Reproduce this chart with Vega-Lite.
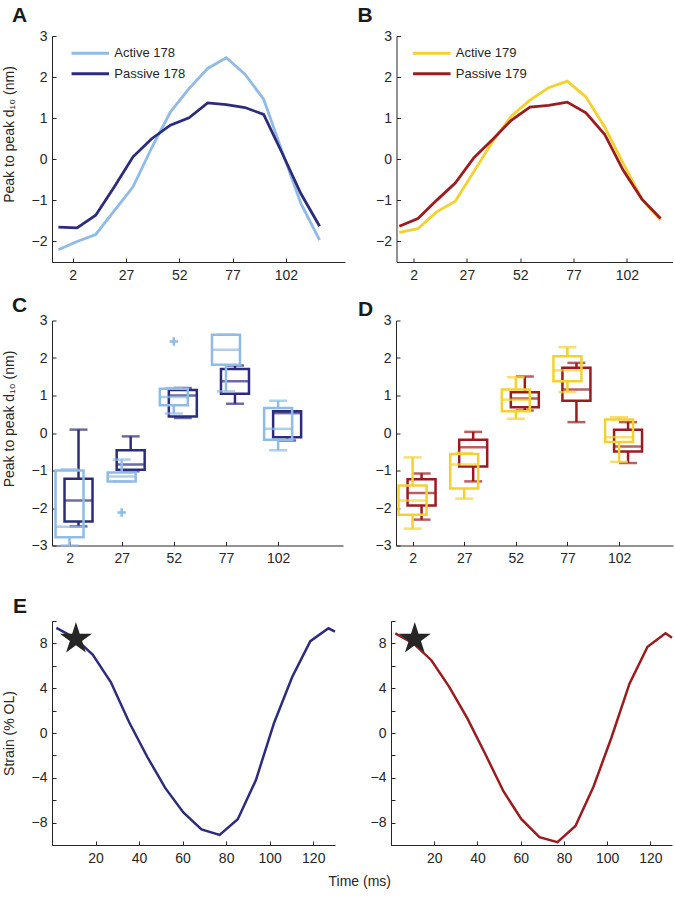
{
  "$schema": "https://vega.github.io/schema/vega-lite/v6.json",
  "padding": {"left": 2, "top": 5, "right": 2, "bottom": 2},
  "background": "white",
  "spacing": 30,
  "resolve": {"scale": {"x": "independent", "y": "independent", "color": "independent"}, "legend": {"color": "independent"}},
  "datasets": {
    "lineA": [
      {"x": -4.7, "value": -2.2, "series": "Active 178"},
      {"x": 4.05, "value": -2.0, "series": "Active 178"},
      {"x": 12.8, "value": -1.83, "series": "Active 178"},
      {"x": 21.55, "value": -1.25, "series": "Active 178"},
      {"x": 30.3, "value": -0.67, "series": "Active 178"},
      {"x": 39.05, "value": 0.28, "series": "Active 178"},
      {"x": 47.8, "value": 1.15, "series": "Active 178"},
      {"x": 56.55, "value": 1.72, "series": "Active 178"},
      {"x": 65.3, "value": 2.21, "series": "Active 178"},
      {"x": 74.05, "value": 2.47, "series": "Active 178"},
      {"x": 82.8, "value": 2.07, "series": "Active 178"},
      {"x": 91.55, "value": 1.46, "series": "Active 178"},
      {"x": 100.3, "value": 0.18, "series": "Active 178"},
      {"x": 109.05, "value": -1.08, "series": "Active 178"},
      {"x": 117.8, "value": -1.97, "series": "Active 178"},
      {"x": -4.7, "value": -1.65, "series": "Passive 178"},
      {"x": 4.05, "value": -1.67, "series": "Passive 178"},
      {"x": 12.8, "value": -1.36, "series": "Passive 178"},
      {"x": 21.55, "value": -0.67, "series": "Passive 178"},
      {"x": 30.3, "value": 0.06, "series": "Passive 178"},
      {"x": 39.05, "value": 0.5, "series": "Passive 178"},
      {"x": 47.8, "value": 0.83, "series": "Passive 178"},
      {"x": 56.55, "value": 1.01, "series": "Passive 178"},
      {"x": 65.3, "value": 1.37, "series": "Passive 178"},
      {"x": 74.05, "value": 1.33, "series": "Passive 178"},
      {"x": 82.8, "value": 1.26, "series": "Passive 178"},
      {"x": 91.55, "value": 1.09, "series": "Passive 178"},
      {"x": 100.3, "value": 0.14, "series": "Passive 178"},
      {"x": 109.05, "value": -0.84, "series": "Passive 178"},
      {"x": 117.8, "value": -1.63, "series": "Passive 178"}
    ],
    "lineB": [
      {"x": -4.7, "value": -1.78, "series": "Active 179"},
      {"x": 4.05, "value": -1.69, "series": "Active 179"},
      {"x": 12.8, "value": -1.28, "series": "Active 179"},
      {"x": 21.55, "value": -1.02, "series": "Active 179"},
      {"x": 30.3, "value": -0.3, "series": "Active 179"},
      {"x": 39.05, "value": 0.43, "series": "Active 179"},
      {"x": 47.8, "value": 1.05, "series": "Active 179"},
      {"x": 56.55, "value": 1.44, "series": "Active 179"},
      {"x": 65.3, "value": 1.74, "series": "Active 179"},
      {"x": 74.05, "value": 1.9, "series": "Active 179"},
      {"x": 82.8, "value": 1.52, "series": "Active 179"},
      {"x": 91.55, "value": 0.79, "series": "Active 179"},
      {"x": 100.3, "value": -0.1, "series": "Active 179"},
      {"x": 109.05, "value": -0.97, "series": "Active 179"},
      {"x": 117.8, "value": -1.48, "series": "Active 179"},
      {"x": -4.7, "value": -1.63, "series": "Passive 179"},
      {"x": 4.05, "value": -1.44, "series": "Passive 179"},
      {"x": 12.8, "value": -1.0, "series": "Passive 179"},
      {"x": 21.55, "value": -0.58, "series": "Passive 179"},
      {"x": 30.3, "value": 0.04, "series": "Passive 179"},
      {"x": 39.05, "value": 0.48, "series": "Passive 179"},
      {"x": 47.8, "value": 0.95, "series": "Passive 179"},
      {"x": 56.55, "value": 1.27, "series": "Passive 179"},
      {"x": 65.3, "value": 1.31, "series": "Passive 179"},
      {"x": 74.05, "value": 1.39, "series": "Passive 179"},
      {"x": 82.8, "value": 1.13, "series": "Passive 179"},
      {"x": 91.55, "value": 0.61, "series": "Passive 179"},
      {"x": 100.3, "value": -0.27, "series": "Passive 179"},
      {"x": 109.05, "value": -0.97, "series": "Passive 179"},
      {"x": 117.8, "value": -1.44, "series": "Passive 179"}
    ],
    "boxC": [
      {"t": 2, "series": "Active", "lo": -3.0, "q1": -2.78, "med": -2.5, "q3": -1.0, "hi": -0.97},
      {"t": 2, "series": "Passive", "lo": -2.49, "q1": -2.36, "med": -1.8, "q3": -1.22, "hi": 0.09},
      {"t": 27, "series": "Active", "lo": -1.29, "q1": -1.29, "med": -1.16, "q3": -1.05, "hi": -0.71},
      {"t": 27, "series": "Passive", "lo": -1.02, "q1": -0.98, "med": -0.84, "q3": -0.46, "hi": -0.09},
      {"t": 52, "series": "Active", "lo": 0.52, "q1": 0.74, "med": 0.96, "q3": 1.18, "hi": 1.2},
      {"t": 52, "series": "Passive", "lo": 0.4, "q1": 0.44, "med": 1.0, "q3": 1.15, "hi": 1.2},
      {"t": 77, "series": "Active", "lo": 1.11, "q1": 1.82, "med": 2.22, "q3": 2.62, "hi": 2.62},
      {"t": 77, "series": "Passive", "lo": 0.78, "q1": 1.05, "med": 1.38, "q3": 1.71, "hi": 1.8},
      {"t": 102, "series": "Active", "lo": -0.46, "q1": -0.18, "med": 0.11, "q3": 0.67, "hi": 0.86},
      {"t": 102, "series": "Passive", "lo": -0.2, "q1": -0.11, "med": 0.53, "q3": 0.58, "hi": 0.58}
    ],
    "outC": [
      {"t": 27, "value": -2.12},
      {"t": 52, "value": 2.44}
    ],
    "boxD": [
      {"t": 2, "series": "Active", "lo": -2.55, "q1": -2.18, "med": -1.8, "q3": -1.4, "hi": -0.65},
      {"t": 2, "series": "Passive", "lo": -2.31, "q1": -1.93, "med": -1.6, "q3": -1.23, "hi": -1.08},
      {"t": 27, "series": "Active", "lo": -1.75, "q1": -1.48, "med": -0.84, "q3": -0.56, "hi": -0.53},
      {"t": 27, "series": "Passive", "lo": -1.29, "q1": -0.89, "med": -0.38, "q3": -0.18, "hi": 0.03},
      {"t": 52, "series": "Active", "lo": 0.38, "q1": 0.58, "med": 0.89, "q3": 1.16, "hi": 1.49},
      {"t": 52, "series": "Passive", "lo": 0.6, "q1": 0.69, "med": 0.92, "q3": 1.09, "hi": 1.51},
      {"t": 77, "series": "Active", "lo": 1.09, "q1": 1.38, "med": 1.67, "q3": 2.05, "hi": 2.29},
      {"t": 77, "series": "Passive", "lo": 0.29, "q1": 0.86, "med": 1.16, "q3": 1.74, "hi": 1.87},
      {"t": 102, "series": "Active", "lo": -0.77, "q1": -0.24, "med": -0.11, "q3": 0.36, "hi": 0.42},
      {"t": 102, "series": "Passive", "lo": -0.8, "q1": -0.49, "med": -0.36, "q3": 0.09, "hi": 0.29}
    ],
    "lineE1": [
      {"t": 2, "v": 9.38}, {"t": 10.33, "v": 8.5}, {"t": 18.67, "v": 7.0}, {"t": 27, "v": 4.55},
      {"t": 35.33, "v": 1.0}, {"t": 43.67, "v": -2.1}, {"t": 52, "v": -4.9}, {"t": 60.33, "v": -7.1},
      {"t": 68.67, "v": -8.6}, {"t": 77, "v": -9.1}, {"t": 85.33, "v": -7.7}, {"t": 93.67, "v": -4.2},
      {"t": 102, "v": 0.9}, {"t": 110.33, "v": 5.0}, {"t": 118.67, "v": 8.2}, {"t": 127, "v": 9.35},
      {"t": 130, "v": 9.05}
    ],
    "lineE2": [
      {"t": 2, "v": 8.9}, {"t": 10.33, "v": 8.0}, {"t": 18.67, "v": 6.5}, {"t": 27, "v": 4.1},
      {"t": 35.33, "v": 1.3}, {"t": 43.67, "v": -1.9}, {"t": 52, "v": -5.2}, {"t": 60.33, "v": -7.7},
      {"t": 68.67, "v": -9.3}, {"t": 77, "v": -9.75}, {"t": 85.33, "v": -8.3}, {"t": 93.67, "v": -4.8},
      {"t": 102, "v": -0.4}, {"t": 110.33, "v": 4.4}, {"t": 118.67, "v": 7.7}, {"t": 127, "v": 8.9},
      {"t": 130, "v": 8.5}
    ],
    "star": [{"t": 11, "v": 8.4}]
  },
  "vconcat": [
    {
      "spacing": 12.5,
      "resolve": {"scale": {"x": "independent", "y": "independent", "color": "independent"}, "legend": {"color": "independent"}},
      "vconcat": [
        {
          "spacing": 12.5,
          "resolve": {"scale": {"x": "independent", "y": "independent", "color": "independent"}, "legend": {"color": "independent"}},
          "hconcat": [
            {
              "width": 293, "height": 226,
              "title": {"text": "A", "dx": -40, "dy": 1},
              "data": {"name": "lineA"},
              "mark": {"type": "line", "strokeWidth": 2.8},
              "encoding": {
                "x": {"field": "x", "type": "quantitative", "scale": {"domain": [-7.7, 129.7], "nice": false, "zero": false}, "axis": {"values": [2, 27, 52, 77, 102], "tickCount": 30, "format": "d", "title": null, "labelOverlap": false}},
                "y": {"field": "value", "type": "quantitative", "scale": {"domain": [-2.5, 3], "nice": false, "zero": false}, "axis": {"values": [-2, -1, 0, 1, 2, 3], "tickCount": 30, "format": "d", "title": "Peak to peak d₁₀ (nm)", "titleY": 98, "labelOverlap": false}},
                "color": {"field": "series", "type": "nominal", "scale": {"domain": ["Active 178", "Passive 178"], "range": ["#8fbbe6", "#2d2c7c"]},
                  "legend": {"orient": "none", "legendX": 29.3, "legendY": 8.2, "title": null, "symbolType": "M-2.5,0H2.5", "symbolSize": 225, "symbolStrokeWidth": 3, "labelFontSize": 13, "labelOffset": 15, "rowPadding": 4.5, "padding": 0}}
              }
            },
            {
              "width": 276, "height": 226,
              "title": {"text": "B", "dx": -39, "dy": 1},
              "data": {"name": "lineB"},
              "mark": {"type": "line", "strokeWidth": 2.8},
              "encoding": {
                "x": {"field": "x", "type": "quantitative", "scale": {"domain": [-6, 123.4], "nice": false, "zero": false}, "axis": {"values": [2, 27, 52, 77, 102], "tickCount": 30, "format": "d", "title": null, "labelOverlap": false}},
                "y": {"field": "value", "type": "quantitative", "scale": {"domain": [-2.5, 3], "nice": false, "zero": false}, "axis": {"values": [-2, -1, 0, 1, 2, 3], "tickCount": 30, "format": "d", "title": null, "labelOverlap": false}},
                "color": {"field": "series", "type": "nominal", "scale": {"domain": ["Active 179", "Passive 179"], "range": ["#f5d130", "#9b1c1f"]},
                  "legend": {"orient": "none", "legendX": 26.3, "legendY": 8.2, "title": null, "symbolType": "M-2.5,0H2.5", "symbolSize": 225, "symbolStrokeWidth": 3, "labelFontSize": 13, "labelOffset": 15, "rowPadding": 4.5, "padding": 0}}
              }
            }
          ]
        },
        {
          "spacing": 15,
          "resolve": {"scale": {"x": "independent", "y": "independent", "color": "independent"}},
          "hconcat": [
            {
              "width": 291, "height": 225,
              "title": {"text": "C", "dx": -40, "dy": 6},
              "data": {"name": "boxC"},
              "encoding": {
                "x": {"field": "t", "type": "quantitative", "scale": {"domain": [-4, 130.7], "nice": false, "zero": false}, "axis": {"values": [2, 27, 52, 77, 102], "tickCount": 30, "format": "d", "title": null, "labelOverlap": false}}
              },
              "layer": [
                {"transform": [{"filter": "datum.series === 'Passive'"}], "mark": {"type": "rule", "color": "#2d2c7c", "strokeWidth": 2.5, "xOffset": 9},
                 "encoding": {"y": {"field": "lo", "type": "quantitative", "scale": {"domain": [-3, 3], "nice": false, "zero": false}, "title": "Peak to peak d₁₀ (nm)", "axis": {"values": [-3, -2, -1, 0, 1, 2, 3], "tickCount": 30, "format": "d", "titleY": 98, "labelOverlap": false}}, "y2": {"field": "q1"}}},
                {"transform": [{"filter": "datum.series === 'Passive'"}], "mark": {"type": "rule", "color": "#2d2c7c", "strokeWidth": 2.5, "xOffset": 9},
                 "encoding": {"y": {"field": "q3", "type": "quantitative", "scale": {"domain": [-3, 3], "nice": false, "zero": false}, "title": "Peak to peak d₁₀ (nm)"}, "y2": {"field": "hi"}}},
                {"transform": [{"filter": "datum.series === 'Passive'"}], "mark": {"type": "bar", "orient": "vertical", "width": 28, "fill": "transparent", "stroke": "#2d2c7c", "strokeWidth": 2.5, "xOffset": 9},
                 "encoding": {"y": {"field": "q3", "type": "quantitative", "scale": {"domain": [-3, 3], "nice": false, "zero": false}, "title": "Peak to peak d₁₀ (nm)"}, "y2": {"field": "q1"}}},
                {"transform": [{"filter": "datum.series === 'Passive'"}], "mark": {"type": "tick", "orient": "horizontal", "size": 28, "thickness": 2.5, "color": "#2d2c7c", "xOffset": 9},
                 "encoding": {"y": {"field": "med", "type": "quantitative", "scale": {"domain": [-3, 3], "nice": false, "zero": false}, "title": "Peak to peak d₁₀ (nm)"}}},
                {"transform": [{"filter": "datum.series === 'Passive'"}], "mark": {"type": "tick", "orient": "horizontal", "size": 18, "thickness": 2.5, "color": "#2d2c7c", "xOffset": 9},
                 "encoding": {"y": {"field": "lo", "type": "quantitative", "scale": {"domain": [-3, 3], "nice": false, "zero": false}, "title": "Peak to peak d₁₀ (nm)"}}},
                {"transform": [{"filter": "datum.series === 'Passive'"}], "mark": {"type": "tick", "orient": "horizontal", "size": 18, "thickness": 2.5, "color": "#2d2c7c", "xOffset": 9},
                 "encoding": {"y": {"field": "hi", "type": "quantitative", "scale": {"domain": [-3, 3], "nice": false, "zero": false}, "title": "Peak to peak d₁₀ (nm)"}}},
                {"transform": [{"filter": "datum.series === 'Active'"}], "mark": {"type": "rule", "color": "#8fbbe6", "strokeWidth": 2.5},
                 "encoding": {"y": {"field": "lo", "type": "quantitative", "scale": {"domain": [-3, 3], "nice": false, "zero": false}, "title": "Peak to peak d₁₀ (nm)"}, "y2": {"field": "q1"}}},
                {"transform": [{"filter": "datum.series === 'Active'"}], "mark": {"type": "rule", "color": "#8fbbe6", "strokeWidth": 2.5},
                 "encoding": {"y": {"field": "q3", "type": "quantitative", "scale": {"domain": [-3, 3], "nice": false, "zero": false}, "title": "Peak to peak d₁₀ (nm)"}, "y2": {"field": "hi"}}},
                {"transform": [{"filter": "datum.series === 'Active'"}], "mark": {"type": "bar", "orient": "vertical", "width": 28, "fill": "transparent", "stroke": "#8fbbe6", "strokeWidth": 2.5},
                 "encoding": {"y": {"field": "q3", "type": "quantitative", "scale": {"domain": [-3, 3], "nice": false, "zero": false}, "title": "Peak to peak d₁₀ (nm)"}, "y2": {"field": "q1"}}},
                {"transform": [{"filter": "datum.series === 'Active'"}], "mark": {"type": "tick", "orient": "horizontal", "size": 28, "thickness": 2.5, "color": "#8fbbe6"},
                 "encoding": {"y": {"field": "med", "type": "quantitative", "scale": {"domain": [-3, 3], "nice": false, "zero": false}, "title": "Peak to peak d₁₀ (nm)"}}},
                {"transform": [{"filter": "datum.series === 'Active'"}], "mark": {"type": "tick", "orient": "horizontal", "size": 18, "thickness": 2.5, "color": "#8fbbe6"},
                 "encoding": {"y": {"field": "lo", "type": "quantitative", "scale": {"domain": [-3, 3], "nice": false, "zero": false}, "title": "Peak to peak d₁₀ (nm)"}}},
                {"transform": [{"filter": "datum.series === 'Active'"}], "mark": {"type": "tick", "orient": "horizontal", "size": 18, "thickness": 2.5, "color": "#8fbbe6"},
                 "encoding": {"y": {"field": "hi", "type": "quantitative", "scale": {"domain": [-3, 3], "nice": false, "zero": false}, "title": "Peak to peak d₁₀ (nm)"}}},
                {"data": {"name": "outC"}, "mark": {"type": "point", "shape": "M-1,0H1M0,-1V1", "filled": false, "color": "#8fbbe6", "strokeWidth": 2.5, "size": 70, "opacity": 1},
                 "encoding": {"y": {"field": "value", "type": "quantitative", "scale": {"domain": [-3, 3], "nice": false, "zero": false}, "title": "Peak to peak d₁₀ (nm)"}}}
              ]
            },
            {
              "width": 277, "height": 225,
              "title": {"text": "D", "dx": -38, "dy": 10},
              "data": {"name": "boxD"},
              "encoding": {
                "x": {"field": "t", "type": "quantitative", "scale": {"domain": [-3.6, 125.7], "nice": false, "zero": false}, "axis": {"values": [2, 27, 52, 77, 102], "tickCount": 30, "format": "d", "title": null, "labelOverlap": false}}
              },
              "layer": [
                {"transform": [{"filter": "datum.series === 'Passive'"}], "mark": {"type": "rule", "color": "#9b1c1f", "strokeWidth": 2.5, "xOffset": 9},
                 "encoding": {"y": {"field": "lo", "type": "quantitative", "scale": {"domain": [-3, 3], "nice": false, "zero": false}, "title": null, "axis": {"values": [-3, -2, -1, 0, 1, 2, 3], "tickCount": 30, "format": "d", "labelOverlap": false}}, "y2": {"field": "q1"}}},
                {"transform": [{"filter": "datum.series === 'Passive'"}], "mark": {"type": "rule", "color": "#9b1c1f", "strokeWidth": 2.5, "xOffset": 9},
                 "encoding": {"y": {"field": "q3", "type": "quantitative", "scale": {"domain": [-3, 3], "nice": false, "zero": false}, "title": null}, "y2": {"field": "hi"}}},
                {"transform": [{"filter": "datum.series === 'Passive'"}], "mark": {"type": "bar", "orient": "vertical", "width": 28, "fill": "transparent", "stroke": "#9b1c1f", "strokeWidth": 2.5, "xOffset": 9},
                 "encoding": {"y": {"field": "q3", "type": "quantitative", "scale": {"domain": [-3, 3], "nice": false, "zero": false}, "title": null}, "y2": {"field": "q1"}}},
                {"transform": [{"filter": "datum.series === 'Passive'"}], "mark": {"type": "tick", "orient": "horizontal", "size": 28, "thickness": 2.5, "color": "#9b1c1f", "xOffset": 9},
                 "encoding": {"y": {"field": "med", "type": "quantitative", "scale": {"domain": [-3, 3], "nice": false, "zero": false}, "title": null}}},
                {"transform": [{"filter": "datum.series === 'Passive'"}], "mark": {"type": "tick", "orient": "horizontal", "size": 18, "thickness": 2.5, "color": "#9b1c1f", "xOffset": 9},
                 "encoding": {"y": {"field": "lo", "type": "quantitative", "scale": {"domain": [-3, 3], "nice": false, "zero": false}, "title": null}}},
                {"transform": [{"filter": "datum.series === 'Passive'"}], "mark": {"type": "tick", "orient": "horizontal", "size": 18, "thickness": 2.5, "color": "#9b1c1f", "xOffset": 9},
                 "encoding": {"y": {"field": "hi", "type": "quantitative", "scale": {"domain": [-3, 3], "nice": false, "zero": false}, "title": null}}},
                {"transform": [{"filter": "datum.series === 'Active'"}], "mark": {"type": "rule", "color": "#f5d130", "strokeWidth": 2.5},
                 "encoding": {"y": {"field": "lo", "type": "quantitative", "scale": {"domain": [-3, 3], "nice": false, "zero": false}, "title": null}, "y2": {"field": "q1"}}},
                {"transform": [{"filter": "datum.series === 'Active'"}], "mark": {"type": "rule", "color": "#f5d130", "strokeWidth": 2.5},
                 "encoding": {"y": {"field": "q3", "type": "quantitative", "scale": {"domain": [-3, 3], "nice": false, "zero": false}, "title": null}, "y2": {"field": "hi"}}},
                {"transform": [{"filter": "datum.series === 'Active'"}], "mark": {"type": "bar", "orient": "vertical", "width": 28, "fill": "transparent", "stroke": "#f5d130", "strokeWidth": 2.5},
                 "encoding": {"y": {"field": "q3", "type": "quantitative", "scale": {"domain": [-3, 3], "nice": false, "zero": false}, "title": null}, "y2": {"field": "q1"}}},
                {"transform": [{"filter": "datum.series === 'Active'"}], "mark": {"type": "tick", "orient": "horizontal", "size": 28, "thickness": 2.5, "color": "#f5d130"},
                 "encoding": {"y": {"field": "med", "type": "quantitative", "scale": {"domain": [-3, 3], "nice": false, "zero": false}, "title": null}}},
                {"transform": [{"filter": "datum.series === 'Active'"}], "mark": {"type": "tick", "orient": "horizontal", "size": 18, "thickness": 2.5, "color": "#f5d130"},
                 "encoding": {"y": {"field": "lo", "type": "quantitative", "scale": {"domain": [-3, 3], "nice": false, "zero": false}, "title": null}}},
                {"transform": [{"filter": "datum.series === 'Active'"}], "mark": {"type": "tick", "orient": "horizontal", "size": 18, "thickness": 2.5, "color": "#f5d130"},
                 "encoding": {"y": {"field": "hi", "type": "quantitative", "scale": {"domain": [-3, 3], "nice": false, "zero": false}, "title": null}}}
              ]
            }
          ]
        }
      ]
    },
    {
      "spacing": 30,
      "resolve": {"scale": {"x": "independent", "y": "independent"}},
      "title": {"text": "Time (ms)", "orient": "bottom", "anchor": "middle", "frame": "bounds", "fontSize": 14, "fontWeight": "normal", "color": "#262626", "baseline": "top", "offset": 10, "dx": 20},
      "hconcat": [
        {
          "width": 283, "height": 224,
          "title": {"text": "E", "dx": -39, "dy": 7},
          "encoding": {
            "x": {"field": "t", "type": "quantitative", "scale": {"domain": [0, 130], "nice": false, "zero": false}, "axis": {"values": [20, 40, 60, 80, 100, 120], "tickCount": 30, "format": "d", "title": null, "labelOverlap": false}}
          },
          "layer": [
            {"data": {"name": "lineE1"}, "mark": {"type": "line", "color": "#2d2c7c", "strokeWidth": 2.5},
             "encoding": {"y": {"field": "v", "type": "quantitative", "scale": {"domain": [-10, 10], "nice": false, "zero": false}, "title": "Strain (% OL)", "axis": {"values": [-10, -8, -6, -4, -2, 0, 2, 4, 6, 8, 10], "tickCount": 30, "format": "d", "labelExpr": "datum.value % 4 === 0 ? datum.label : ''", "labelOverlap": false}}}},
            {"data": {"name": "star"}, "mark": {"type": "point", "shape": "M0,-1L0.2245,-0.309L0.951,-0.309L0.363,0.118L0.588,0.809L0,0.382L-0.588,0.809L-0.363,0.118L-0.951,-0.309L-0.2245,-0.309Z", "filled": true, "color": "#262626", "size": 1130, "opacity": 1},
             "encoding": {"y": {"field": "v", "type": "quantitative", "scale": {"domain": [-10, 10], "nice": false, "zero": false}, "title": "Strain (% OL)"}}}
          ]
        },
        {
          "width": 281, "height": 224,
          "encoding": {
            "x": {"field": "t", "type": "quantitative", "scale": {"domain": [0, 130], "nice": false, "zero": false}, "axis": {"values": [20, 40, 60, 80, 100, 120], "tickCount": 30, "format": "d", "title": null, "labelOverlap": false}}
          },
          "layer": [
            {"data": {"name": "lineE2"}, "mark": {"type": "line", "color": "#9b1c1f", "strokeWidth": 2.5},
             "encoding": {"y": {"field": "v", "type": "quantitative", "scale": {"domain": [-10, 10], "nice": false, "zero": false}, "title": null, "axis": {"values": [-10, -8, -6, -4, -2, 0, 2, 4, 6, 8, 10], "tickCount": 30, "format": "d", "labelExpr": "datum.value % 4 === 0 ? datum.label : ''", "labelOverlap": false}}}},
            {"data": {"name": "star"}, "mark": {"type": "point", "shape": "M0,-1L0.2245,-0.309L0.951,-0.309L0.363,0.118L0.588,0.809L0,0.382L-0.588,0.809L-0.363,0.118L-0.951,-0.309L-0.2245,-0.309Z", "filled": true, "color": "#262626", "size": 1130, "opacity": 1},
             "encoding": {"y": {"field": "v", "type": "quantitative", "scale": {"domain": [-10, 10], "nice": false, "zero": false}, "title": null}}}
          ]
        }
      ]
    }
  ],
  "config": {
    "font": "Liberation Sans",
    "view": {"stroke": null},
    "axis": {"grid": false, "domainColor": "#262626", "tickColor": "#262626", "labelColor": "#262626", "titleColor": "#262626", "labelFont": "Liberation Sans", "titleFont": "Liberation Sans", "labelFontSize": 14, "titleFontSize": 14, "titleFontWeight": "normal", "tickSize": -4, "domainWidth": 1, "tickWidth": 1, "labelOverlap": false},
    "axisY": {"labelPadding": 9, "titlePadding": 14.5},
    "axisX": {"labelPadding": 10},
    "legend": {"labelFont": "Liberation Sans", "labelColor": "#262626"},
    "title": {"font": "Liberation Sans", "fontSize": 21, "fontWeight": "bold", "anchor": "start", "frame": "group", "color": "#1a1a1a", "offset": 0, "baseline": "alphabetic"}
  }
}
